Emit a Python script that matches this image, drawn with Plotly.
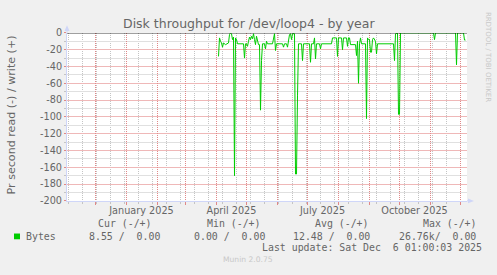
import plotly.graph_objects as go

# ---------------- data ----------------
dates = [
    "2025-04-03", "2025-04-04", "2025-04-05", "2025-04-06", "2025-04-07", "2025-04-08",
    "2025-04-10", "2025-04-12", "2025-04-13", "2025-04-14", "2025-04-15", "2025-04-16",
    "2025-04-17", "2025-04-18", "2025-04-19", "2025-04-20", "2025-04-21", "2025-04-22",
    "2025-04-28", "2025-04-29", "2025-04-30", "2025-05-01", "2025-05-02", "2025-05-03",
    "2025-05-04", "2025-05-05", "2025-05-06", "2025-05-07", "2025-05-08", "2025-05-09",
    "2025-05-10", "2025-05-11", "2025-05-12", "2025-05-13", "2025-05-14", "2025-05-15",
    "2025-05-16", "2025-05-17", "2025-05-19", "2025-05-20", "2025-05-21", "2025-05-22",
    "2025-05-27", "2025-05-28", "2025-05-29", "2025-05-30", "2025-05-31", "2025-06-06",
    "2025-06-07", "2025-06-08", "2025-06-10", "2025-06-11", "2025-06-12", "2025-06-13",
    "2025-06-14", "2025-06-15", "2025-06-16", "2025-06-18", "2025-06-19", "2025-06-20",
    "2025-06-21", "2025-06-22", "2025-06-25", "2025-06-26", "2025-06-27", "2025-07-03",
    "2025-07-04", "2025-07-05", "2025-07-07", "2025-07-08", "2025-07-09", "2025-07-10",
    "2025-07-13", "2025-07-14", "2025-07-15", "2025-07-25", "2025-07-26", "2025-07-30",
    "2025-07-31", "2025-08-01", "2025-08-04", "2025-08-05", "2025-08-06", "2025-08-09",
    "2025-08-10", "2025-08-11", "2025-08-12", "2025-08-13", "2025-08-18", "2025-08-19",
    "2025-08-20", "2025-08-21", "2025-08-22", "2025-08-23", "2025-08-24", "2025-08-28",
    "2025-08-29", "2025-08-30", "2025-08-31", "2025-09-01", "2025-09-02", "2025-09-03",
    "2025-09-04", "2025-09-05", "2025-09-07", "2025-09-08", "2025-09-09", "2025-09-25",
    "2025-09-26", "2025-09-27", "2025-09-29", "2025-09-30", "2025-10-01", "2025-10-02",
    "2025-11-04", "2025-11-05", "2025-11-06", "2025-11-26", "2025-11-27", "2025-11-28",
    "2025-12-04", "2025-12-05", "2025-12-06",
]
read_bytes = [
    -28, -6, -10, -12, -17, -12,
    -14, -12, -12, -2, 0, -1,
    -8, -5, -170, -6, -8, -13,
    -13, -30, -13, -13, -16, -10,
    -5, -8, -4, -7, -1, -8,
    -14, -4, -10, -14, -14, -92,
    -33, -13, -13, -19, -10, -13,
    -13, -4, -1, -21, -13, -13,
    -17, -13, -13, -17, -6, -2,
    -1, -8, -1, -1, -168, -168,
    -75, -13, -13, -33, -13, -13,
    -35, -13, -13, -6, -31, -13,
    -13, -19, -13, -13, -6, -6,
    -28, -6, -6, -20, -6, -6,
    -16, -6, -6, -14, -14, -27,
    -10, -60, -13, -6, -13, -13,
    -102, -6, -8, -8, -23, -23,
    -8, -6, -10, -25, -13, -13,
    -33, -1, 0, -97, -97, 0,
    0, -8, 0, 0, -38, 0,
    0, -8.55, -8.55,
]

y_tick_vals = [0, -20, -40, -60, -80, -100, -120, -140, -160, -180, -200]
y_tick_text = ["0", "-20", "-40", "-60", "-80", "-100", "-120", "-140", "-160", "-180", "-200"]
y_minor_vals = [-10, -30, -50, -70, -90, -110, -130, -150, -170, -190]
x_label_dates = ["2025-01-16", "2025-04-16", "2025-07-16", "2025-10-16"]
x_label_text = ["January 2025", "April 2025", "July 2025", "October 2025"]
x_range = ["2024-11-02 12:00", "2025-12-07 12:00"]

title_text = "Disk throughput for /dev/loop4 - by year"
y_title = "Pr second read (-) / write (+)"
series_name = "Bytes"
stat_headers = ["Cur (-/+)", "Min (-/+)", "Avg (-/+)", "Max (-/+)"]
stat_values = ["8.55 /  0.00", "0.00 /  0.00", "12.48 /  0.00", "26.76k/  0.00"]
last_update = "Last update: Sat Dec  6 01:00:03 2025"
munin_version = "Munin 2.0.75"
watermark = "RRDTOOL / TOBI OETIKER"

# ---------------- style / layout ----------------
W, H = 497, 275
PL, PR, PT, PB = 67, 467, 28, 203


def px(x):
    return x / W


def py(y):
    return 1 - y / H


def nb(s):
    return s.replace(" ", "\u00a0")


GREEN = "#00CC00"
FONTC = "#666666"
AXISC = "#CFD6F8"
MGRID = "#E08888"
GRID = "#C4C4C4"
MGRID_Y = "#EFB8B8"
GRID_Y = "#E0E0E0"
SANS = "DejaVu Sans"
MONO = "DejaVu Sans Mono"
DOTS = "1px,1px"

fig = go.Figure()
fig.add_trace(go.Scatter(x=dates, y=read_bytes, mode="lines",
                         line=dict(color=GREEN, width=1),
                         hoverinfo="skip", showlegend=False))
# helper traces so the overlay axes exist
for ax_name, ay_name in (("x2", "y"), ("x3", "y"), ("x", "y2")):
    fig.add_trace(go.Scatter(x=[x_label_dates[0]], y=[None], xaxis=ax_name, yaxis=ay_name,
                             mode="lines", hoverinfo="skip", showlegend=False))

fig.update_layout(
    width=W, height=H, autosize=False,
    margin=dict(l=0, r=0, t=0, b=0, pad=0),
    paper_bgcolor="#F0F0F0",
    plot_bgcolor="#FFFFFF",
    showlegend=False,
    # base axis: fine (two-week) grid
    xaxis=dict(
        domain=[px(PL), px(PR)], range=x_range, type="date",
        showticklabels=False,
        dtick=14 * 86400000, tick0="2024-11-04",
        showgrid=True, gridcolor=GRID, griddash=DOTS, gridwidth=1,
        ticks="outside", ticklen=2, tickcolor=GRID,
        showline=True, linecolor=AXISC, linewidth=1,
        zeroline=False, fixedrange=True,
    ),
    # month labels
    xaxis2=dict(
        overlaying="x", matches="x", anchor="y", side="bottom", type="date",
        tickmode="array", tickvals=x_label_dates, ticktext=x_label_text,
        showgrid=False, showline=False, ticks="", zeroline=False,
        tickfont=dict(family=SANS, size=9.7, color=FONTC),
        ticklabelstandoff=2,
    ),
    # month grid
    xaxis3=dict(
        overlaying="x", matches="x", anchor="y", side="bottom", type="date",
        dtick="M1", tick0="2024-11-01", showticklabels=False,
        showgrid=True, gridcolor=MGRID, griddash=DOTS, gridwidth=1,
        ticks="outside", ticklen=3, tickcolor=MGRID,
        showline=False, zeroline=False,
    ),
    # value axis with major (red) grid
    yaxis=dict(
        domain=[py(PB), py(PT)], range=[-200, 0],
        tickmode="array", tickvals=y_tick_vals, ticktext=y_tick_text,
        showgrid=True, gridcolor=MGRID_Y, griddash="solid", gridwidth=1,
        ticks="outside", ticklen=2, tickcolor=MGRID,
        tickfont=dict(family=SANS, size=9.7, color=FONTC),
        showline=True, linecolor=AXISC, linewidth=1,
        zeroline=False, fixedrange=True,
    ),
    # minor (gray) value grid
    yaxis2=dict(
        overlaying="y", matches="y", anchor="x", side="left",
        tickmode="array", tickvals=y_minor_vals, showticklabels=False,
        showgrid=True, gridcolor=GRID_Y, griddash="solid", gridwidth=1,
        ticks="outside", ticklen=2, tickcolor=GRID,
        showline=False, zeroline=False,
    ),
)

# zero rule on top
fig.add_shape(type="line", xref="x domain", yref="y", x0=0, x1=1, y0=0, y1=0,
              line=dict(color="#000000", width=1), layer="above")

# axis arrows
ay = [(PL - 2.5, PT - 2), (PL + 2.5, PT - 2), (PL, PT - 8)]
ax = [(PR + 1, PB - 2.5), (PR + 1, PB + 2.5), (PR + 7, PB)]
for tri in (ay, ax):
    path = "M " + " L ".join(f"{px(a):.5f},{py(b):.5f}" for a, b in tri) + " Z"
    fig.add_shape(type="path", xref="paper", yref="paper", path=path,
                  fillcolor=AXISC, line=dict(color=AXISC, width=0))
fig.add_shape(type="line", xref="paper", yref="paper",
              x0=px(PL), x1=px(PL), y0=py(PT), y1=py(PT - 3),
              line=dict(color=AXISC, width=1))
fig.add_shape(type="line", xref="paper", yref="paper",
              x0=px(PR), x1=px(PR + 2), y0=py(PB), y1=py(PB),
              line=dict(color=AXISC, width=1))

# legend colour box
fig.add_shape(type="rect", xref="paper", yref="paper",
              x0=px(14), x1=px(20), y0=py(243), y1=py(237),
              fillcolor=GREEN, line=dict(width=0))


def text(s, x, y, size, family=SANS, color=FONTC, xanchor="left", angle=0):
    fig.add_annotation(text=s, x=px(x), y=py(y), xref="paper", yref="paper",
                       xanchor=xanchor, yanchor="middle", showarrow=False,
                       textangle=angle, borderpad=0, borderwidth=0,
                       font=dict(family=family, size=size, color=color))


text(title_text, 249, 18.5, 12.5, xanchor="center")
text(y_title, 11, 114, 11.1, xanchor="center", angle=-90)
text(watermark, 488, 53, 7, color="#C8C8C8", xanchor="center", angle=90)

header_x = [98, 207, 315, 423]
value_x = [89, 194, 293, 399]
for s, x in zip(stat_headers, header_x):
    text(nb(s), x, 227, 9.9, family=MONO)
for s, x in zip(stat_values, value_x):
    text(nb(s), x, 240, 9.9, family=MONO)
text(series_name, 26, 240, 9.9, family=MONO)
text(nb(last_update), 482, 252, 9.9, family=MONO, xanchor="right")
text(munin_version, 248, 264, 7.6, color="#C8C8C8", xanchor="center")

fig.write_html("out.html", config={"responsive": False, "displayModeBar": False})
